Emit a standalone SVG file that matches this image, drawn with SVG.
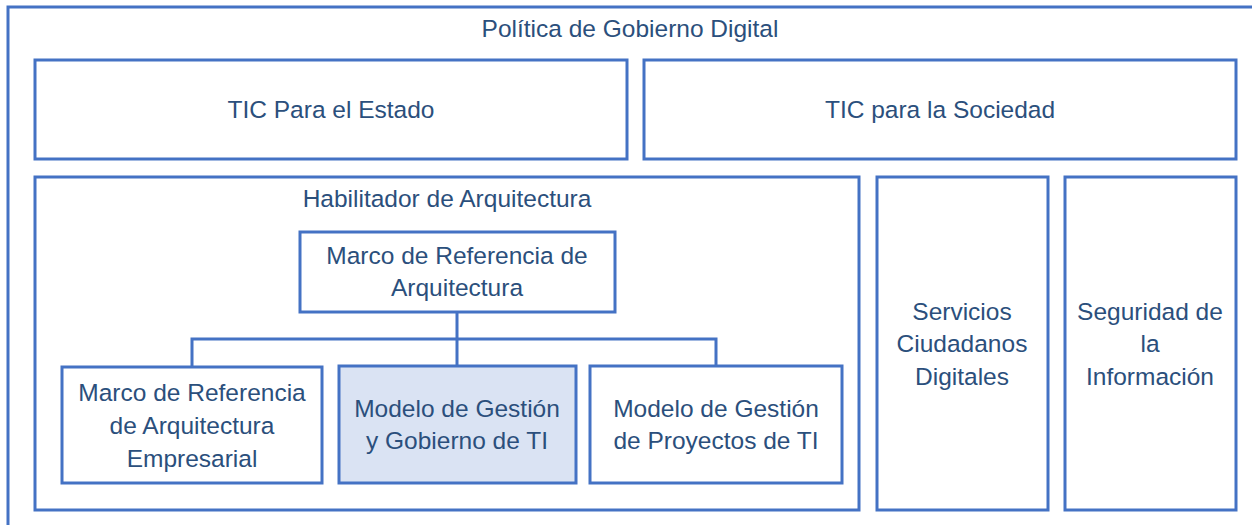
<svg xmlns="http://www.w3.org/2000/svg" width="1252" height="525" viewBox="0 0 1252 525">
<style>
.b{fill:#fff;stroke:#4472c4;stroke-width:3}
.h{fill:#dae3f3;stroke:#4472c4;stroke-width:3}
.c{fill:none;stroke:#4472c4;stroke-width:3}
text{font-family:"Liberation Sans",Arial,sans-serif;font-size:24.5px;fill:#2b4f7c;text-anchor:middle}
</style>
<rect width="1252" height="525" fill="#fff"/>
<g id="politica"><rect class="b" x="8" y="7" width="1260" height="530"/><text x="630" y="37">Política de Gobierno Digital</text></g>
<g id="tic-estado"><rect class="b" x="35" y="60" width="592" height="99"/><text x="331" y="118">TIC Para el Estado</text></g>
<g id="tic-sociedad"><rect class="b" x="644" y="60" width="592" height="99"/><text x="940" y="118">TIC para la Sociedad</text></g>
<g id="habilitador"><rect class="b" x="35" y="177" width="824" height="333"/><text x="447" y="207">Habilitador de Arquitectura</text></g>
<g id="servicios"><rect class="b" x="877" y="177" width="171" height="333"/><text x="962" y="320">Servicios</text><text x="962" y="352">Ciudadanos</text><text x="962" y="385">Digitales</text></g>
<g id="seguridad"><rect class="b" x="1065" y="177" width="171" height="333"/><text x="1150" y="320">Seguridad de</text><text x="1150" y="352">la</text><text x="1150" y="385">Información</text></g>
<g id="connectors"><path class="c" d="M457 312V365M192 366V339H716V365"/></g>
<g id="marco-ref"><rect class="b" x="300" y="232" width="315" height="80"/><text x="457" y="264">Marco de Referencia de</text><text x="457" y="296">Arquitectura</text></g>
<g id="marco-emp"><rect class="b" x="62" y="367" width="260" height="116"/><text x="192" y="401">Marco de Referencia</text><text x="192" y="434">de Arquitectura</text><text x="192" y="467">Empresarial</text></g>
<g id="modelo-gestion"><rect class="h" x="339" y="366" width="237" height="117"/><text x="457" y="417">Modelo de Gestión</text><text x="457" y="449">y Gobierno de TI</text></g>
<g id="modelo-proyectos"><rect class="b" x="590" y="366" width="252" height="117"/><text x="716" y="417">Modelo de Gestión</text><text x="716" y="449">de Proyectos de TI</text></g>
</svg>
